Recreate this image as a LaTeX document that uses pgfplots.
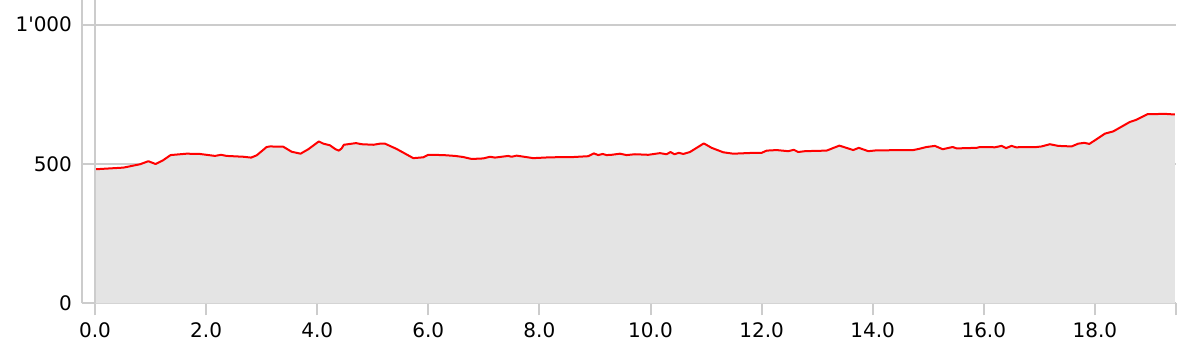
\documentclass[border=0pt]{standalone}
\usepackage{fontspec}
\setmainfont{DejaVu Sans}[Ligatures=TeXOff]
\usepackage{pgfplots}
\pgfplotsset{compat=1.18}
\definecolor{gridc}{HTML}{CCCCCC}
\definecolor{fillc}{HTML}{E4E4E4}
\definecolor{linec}{HTML}{FF0000}
\begin{document}
\fontsize{10pt}{12pt}\selectfont
\begin{tikzpicture}
\useasboundingbox (-41pt,-28.85pt) rectangle (561pt,151.65pt);
\begin{axis}[
  scale only axis,
  width=547pt, height=151.65pt,
  xmin=-0.234, xmax=19.46,
  ymin=0, ymax=1088.6,
  axis x line*=bottom, axis y line*=left,
  axis line style={gridc, line width=1pt, -},
  xtick={0,2,...,18},
  extra x ticks={19.46}, extra x tick labels={},
  ytick={0,500,1000},
  tick align=outside,
  major tick length=6pt,
  xtick style={gridc, line width=1pt},
  ytick style={draw=none},
  yticklabel style={xshift=4.5pt},
  ymajorgrids,
  major grid style={gridc, line width=0.9pt},
  /pgf/number format/assume math mode=true,
  xticklabel style={/pgf/number format/.cd, fixed, fixed zerofill, precision=1},
  yticklabel style={/pgf/number format/.cd, 1000 sep={'}},
  scaled ticks=false,
  tick label style={font=\fontsize{10pt}{12pt}\selectfont, text=black},
  clip=false,
]
\addplot[fill=fillc, draw=none] coordinates {
(0,481)(0.51,487)(0.81,499)(0.96,510)(1.09,500)(1.23,514)(1.36,532)(1.65,537)(1.89,536)
(2.16,529)(2.27,533)(2.37,529)(2.67,526)(2.81,523)(2.91,531)(3.09,561)(3.15,563)(3.39,562)
(3.54,544)(3.70,537)(3.84,553)(4.03,581)(4.11,573)(4.23,567)(4.33,553)(4.39,548)(4.44,556)
(4.48,569)(4.70,575)(4.80,571)(5.01,569)(5.13,573)(5.22,573)(5.43,554)(5.73,521)(5.91,524)
(6.00,533)(6.27,532)(6.48,529)(6.63,525)(6.78,518)(6.99,520)(7.11,526)(7.20,523)(7.44,529)
(7.50,526)(7.59,530)(7.89,521)(8.19,524)(8.61,525)(8.88,528)(8.98,538)(9.06,532)(9.14,536)
(9.21,532)(9.30,533)(9.45,537)(9.57,532)(9.72,535)(9.96,533)(10.17,539)(10.29,535)(10.36,543)
(10.43,535)(10.51,540)(10.59,536)(10.71,543)(10.96,574)(11.10,558)(11.31,542)(11.49,537)
(11.85,540)(12.00,540)(12.09,548)(12.27,550)(12.48,546)(12.58,551)(12.66,543)(12.78,546)
(12.96,547)(13.17,548)(13.40,566)(13.65,550)(13.75,558)(13.92,546)(14.07,549)(14.73,550)
(14.85,555)(14.97,561)(15.12,565)(15.26,553)(15.44,561)(15.51,556)(15.87,558)(15.93,561)
(16.20,560)(16.32,565)(16.40,557)(16.50,565)(16.58,560)(16.95,561)(17.04,563)(17.19,571)
(17.34,565)(17.58,563)(17.70,573)(17.81,576)(17.90,572)(18.03,589)(18.18,609)(18.33,617)
(18.63,651)(18.75,659)(18.95,679)(19.05,679)(19.26,680)(19.41,678)(19.44,678)
} \closedcycle;
\addplot[linec, line width=1pt, line join=round] coordinates {
(0,481)(0.51,487)(0.81,499)(0.96,510)(1.09,500)(1.23,514)(1.36,532)(1.65,537)(1.89,536)
(2.16,529)(2.27,533)(2.37,529)(2.67,526)(2.81,523)(2.91,531)(3.09,561)(3.15,563)(3.39,562)
(3.54,544)(3.70,537)(3.84,553)(4.03,581)(4.11,573)(4.23,567)(4.33,553)(4.39,548)(4.44,556)
(4.48,569)(4.70,575)(4.80,571)(5.01,569)(5.13,573)(5.22,573)(5.43,554)(5.73,521)(5.91,524)
(6.00,533)(6.27,532)(6.48,529)(6.63,525)(6.78,518)(6.99,520)(7.11,526)(7.20,523)(7.44,529)
(7.50,526)(7.59,530)(7.89,521)(8.19,524)(8.61,525)(8.88,528)(8.98,538)(9.06,532)(9.14,536)
(9.21,532)(9.30,533)(9.45,537)(9.57,532)(9.72,535)(9.96,533)(10.17,539)(10.29,535)(10.36,543)
(10.43,535)(10.51,540)(10.59,536)(10.71,543)(10.96,574)(11.10,558)(11.31,542)(11.49,537)
(11.85,540)(12.00,540)(12.09,548)(12.27,550)(12.48,546)(12.58,551)(12.66,543)(12.78,546)
(12.96,547)(13.17,548)(13.40,566)(13.65,550)(13.75,558)(13.92,546)(14.07,549)(14.73,550)
(14.85,555)(14.97,561)(15.12,565)(15.26,553)(15.44,561)(15.51,556)(15.87,558)(15.93,561)
(16.20,560)(16.32,565)(16.40,557)(16.50,565)(16.58,560)(16.95,561)(17.04,563)(17.19,571)
(17.34,565)(17.58,563)(17.70,573)(17.81,576)(17.90,572)(18.03,589)(18.18,609)(18.33,617)
(18.63,651)(18.75,659)(18.95,679)(19.05,679)(19.26,680)(19.41,678)(19.44,678)
};
\draw[gridc, line width=1pt] (axis cs:0,0) -- (axis cs:0,1088.6);
\end{axis}
\end{tikzpicture}
\end{document}
